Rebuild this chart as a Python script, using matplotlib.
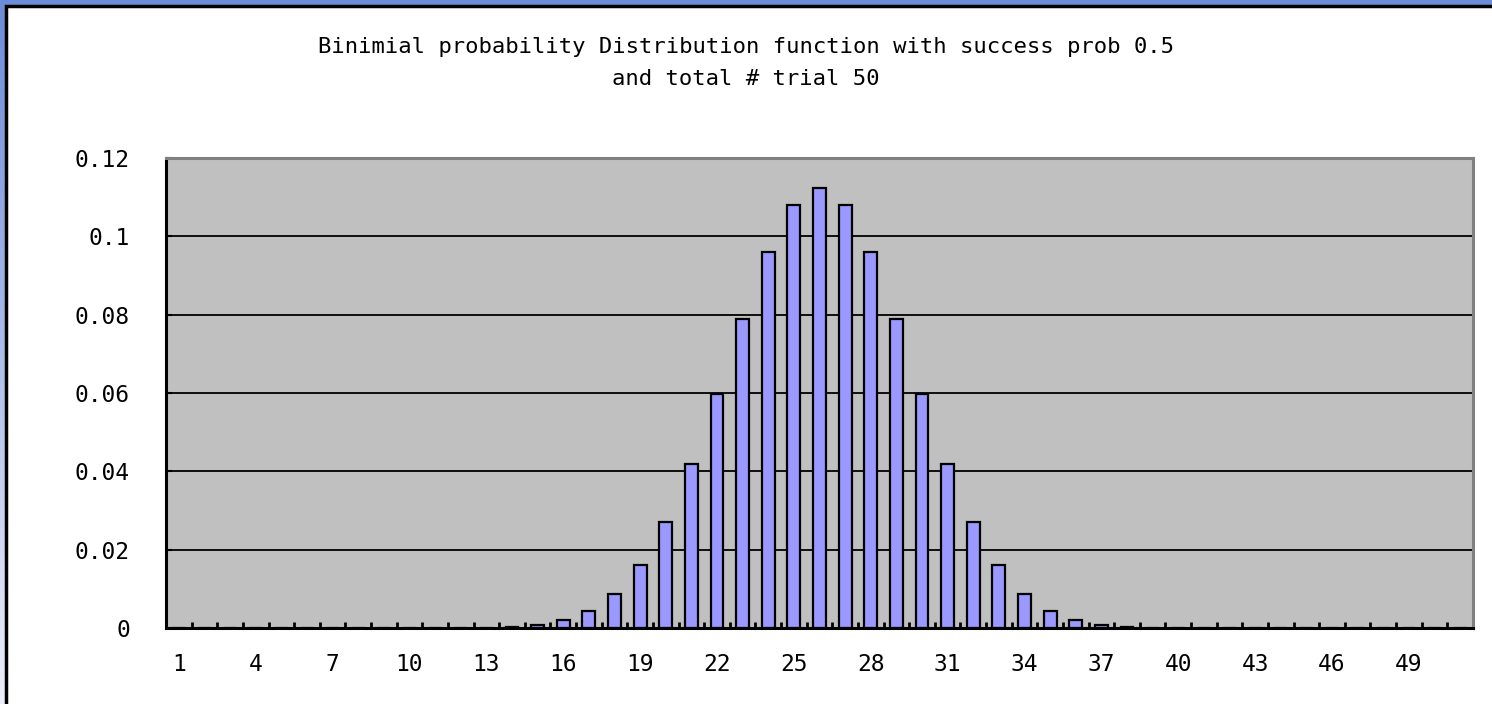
import numpy as np
import matplotlib
matplotlib.use('Agg')
import matplotlib.pyplot as plt
from matplotlib.patches import Rectangle

# number of successes (1-based category) and probability for n=50, p=0.5
categories = list(range(1, 52))
probs = [0.0] * 12 + [
    0.0001, 0.0003, 0.0008, 0.0020, 0.0044, 0.0087, 0.0160, 0.0270,
    0.0419, 0.0598, 0.0788, 0.0960, 0.1080, 0.1123, 0.1080, 0.0960,
    0.0788, 0.0598, 0.0419, 0.0270, 0.0160, 0.0087, 0.0044, 0.0020,
    0.0008, 0.0003, 0.0001,
] + [0.0] * 12
xlabels = list(range(1, 50, 3))
yticks = [0, 0.02, 0.04, 0.06, 0.08, 0.1, 0.12]
ylabels = ['0', '0.02', '0.04', '0.06', '0.08', '0.1', '0.12']

plt.rcParams['font.family'] = ['DejaVu Sans Mono']

fig = plt.figure(figsize=(14.92, 7.04), dpi=100)

# blue frame fading downwards, white chart area on top of it
bg = fig.add_axes([0, 0, 1, 1], zorder=-10)
grad = np.linspace(0, 1, 256).reshape(-1, 1)
top = np.array([0.42, 0.55, 0.84])
bot = np.array([0.93, 0.94, 0.98])
img = top + (bot - top) * grad[:, :, None]
bg.imshow(img, aspect='auto', extent=[0, 1, 0, 1])
bg.set_axis_off()
fig.patches.append(Rectangle((5.5 / 1492, -0.05), 1.2, 1 - 5.5 / 704 + 0.05,
                             transform=fig.transFigure, facecolor='white',
                             edgecolor='black', linewidth=2.5, zorder=-5))

ax = fig.add_axes([166 / 1492, 76 / 704, 1307 / 1492, 470 / 704])
ax.set_facecolor('#c0c0c0')
ax.bar(categories, probs, width=0.5, color='#9999ff', edgecolor='black',
       linewidth=1.6, zorder=2)

ax.set_xlim(0.5, 51.5)
ax.set_ylim(0, 0.12)
ax.set_axisbelow(True)
ax.yaxis.grid(True, color='black', linewidth=1.3)

ax.set_xticks(xlabels)
ax.set_xticklabels([str(v) for v in xlabels], fontsize=16.5)
ax.set_xticks(np.arange(0.5, 52, 1), minor=True)
ax.tick_params(axis='x', which='major', length=0, pad=18)
ax.tick_params(axis='x', which='minor', direction='in', length=4,
               width=2, color='black')
ax.set_yticks(yticks)
ax.set_yticklabels(ylabels, fontsize=16.5)
ax.tick_params(axis='y', direction='in', length=4, width=1.5, pad=26)

for side in ('left', 'bottom'):
    ax.spines[side].set_color('black')
    ax.spines[side].set_linewidth(2.2)
for side in ('top', 'right'):
    ax.spines[side].set_color('#808080')
    ax.spines[side].set_linewidth(2.2)

fig.text(0.5, 641 / 704,
         'Binimial probability Distribution function with success prob 0.5\n'
         'and total # trial 50',
         ha='center', va='center', fontsize=16, linespacing=1.75)

fig.savefig('out.png', dpi=100)
plt.close(fig)
